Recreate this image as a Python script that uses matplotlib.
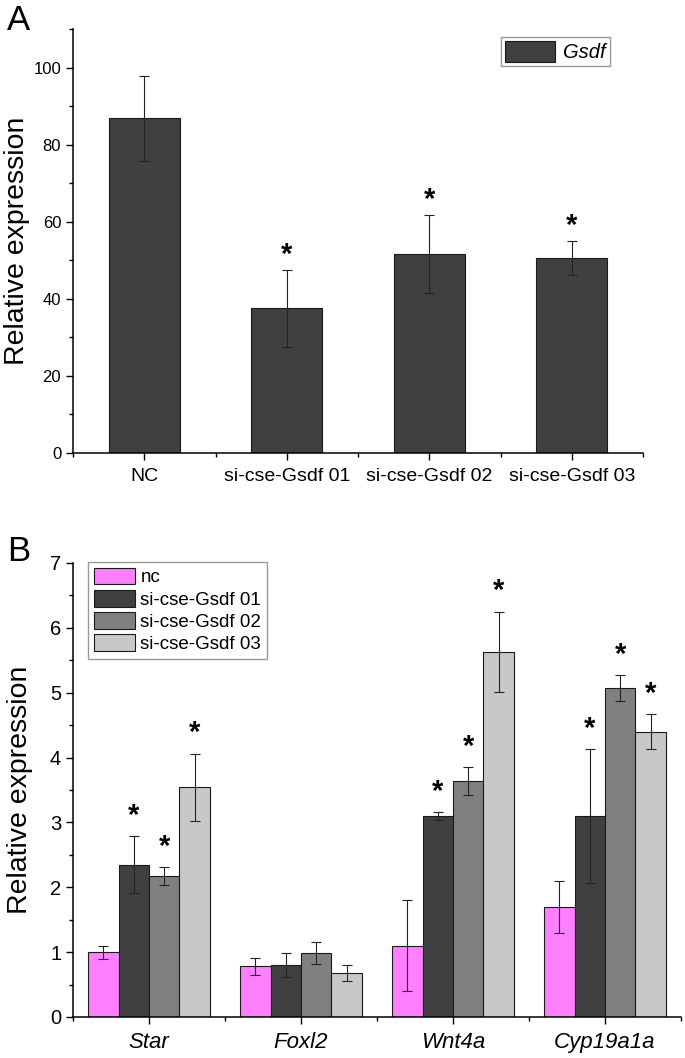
import numpy as np
import matplotlib
matplotlib.use("Agg")
import matplotlib.pyplot as plt
from matplotlib.ticker import MultipleLocator, FixedLocator

plt.rcParams["font.family"] = ["Liberation Sans", "DejaVu Sans"]

# Panel A data
groups_a = ["NC", "si-cse-Gsdf 01", "si-cse-Gsdf 02", "si-cse-Gsdf 03"]
gsdf_mean = [86.8, 37.5, 51.6, 50.7]
gsdf_err = [11.1, 9.9, 10.2, 4.4]
gsdf_star = [False, True, True, True]

# Panel B data
genes = ["Star", "Foxl2", "Wnt4a", "Cyp19a1a"]
series_b = ["nc", "si-cse-Gsdf 01", "si-cse-Gsdf 02", "si-cse-Gsdf 03"]
colors_b = ["#ff80ff", "#404040", "#808080", "#c8c8c8"]
means_b = [
    [1.00, 0.78, 1.10, 1.70],
    [2.35, 0.80, 3.10, 3.10],
    [2.17, 0.98, 3.64, 5.07],
    [3.54, 0.68, 5.63, 4.40],
]
errs_b = [
    [0.10, 0.13, 0.70, 0.40],
    [0.44, 0.18, 0.06, 1.03],
    [0.14, 0.17, 0.21, 0.20],
    [0.52, 0.12, 0.62, 0.27],
]
stars_b = [
    [False, False, False, False],
    [True, False, True, True],
    [True, False, True, True],
    [True, False, True, True],
]

fig = plt.figure(figsize=(6.85, 10.58), dpi=100)
W, H = 685, 1058


def px_axes(x0, y0, x1, y1):
    return fig.add_axes([x0 / W, 1 - y1 / H, (x1 - x0) / W, (y1 - y0) / H])


def style_axes(ax, tick_size):
    for s in ["top", "right"]:
        ax.spines[s].set_visible(False)
    for s in ["left", "bottom"]:
        ax.spines[s].set_linewidth(1.1)
    ax.tick_params(which="major", direction="out", length=5, width=1.0,
                   labelsize=tick_size)
    ax.tick_params(which="minor", direction="out", length=3, width=1.0)


# ---- Panel A ----
axA = px_axes(73, 29, 643, 453)
x = np.arange(len(groups_a))
axA.bar(x, gsdf_mean, width=0.5, color="#404040", edgecolor="#1a1a1a",
        linewidth=0.8, label="Gsdf", zorder=2)
axA.errorbar(x, gsdf_mean, yerr=gsdf_err, fmt="none", ecolor="#222222",
             elinewidth=0.8, capsize=3.5, capthick=0.8, zorder=3)
for i in range(len(x)):
    if gsdf_star[i]:
        axA.text(x[i], gsdf_mean[i] + gsdf_err[i] + 0.3, "*", ha="center",
                 va="bottom", fontsize=21, fontweight="bold")
axA.set_xlim(-0.5, 3.5)
axA.set_ylim(0, 110)
axA.set_xticks(x)
axA.set_xticklabels(groups_a)
axA.xaxis.set_minor_locator(FixedLocator([-0.5, 0.5, 1.5, 2.5, 3.5]))
axA.set_yticks([0, 20, 40, 60, 80, 100])
axA.yaxis.set_minor_locator(MultipleLocator(10))
style_axes(axA, 12)
axA.tick_params(axis="x", labelsize=14, pad=6)
axA.set_ylabel("Relative expression", fontsize=20.5)
axA.yaxis.set_label_coords(-0.075, 0.5)
legA = axA.legend(loc="upper left", bbox_to_anchor=(501 / W, 1 - 37 / H),
                  bbox_transform=fig.transFigure, prop={"style": "italic", "size": 14.5},
                  frameon=True, fancybox=False, handlelength=2.5, handleheight=1.2,
                  handletextpad=0.4, borderpad=0.2, borderaxespad=0)
legA.get_frame().set_edgecolor("#808080")
legA.get_frame().set_linewidth(1.0)
fig.text(7 / W, 1 - 30 / H, "A", fontsize=25, ha="left", va="baseline")

# ---- Panel B ----
axB = px_axes(73, 563, 681, 1017)
xb = np.arange(len(genes))
offsets = [-0.3, -0.1, 0.1, 0.3]
for k in range(len(series_b)):
    pos = xb + offsets[k]
    axB.bar(pos, means_b[k], width=0.2, color=colors_b[k], edgecolor="#1a1a1a",
            linewidth=0.8, label=series_b[k], zorder=2)
    axB.errorbar(pos, means_b[k], yerr=errs_b[k], fmt="none", ecolor="#222222",
                 elinewidth=0.8, capsize=3.5, capthick=0.8, zorder=3)
    for i in range(len(genes)):
        if stars_b[k][i]:
            axB.text(pos[i], means_b[k][i] + errs_b[k][i] + 0.1, "*",
                     ha="center", va="bottom", fontsize=21, fontweight="bold")
axB.set_xlim(-0.5, 3.5)
axB.set_ylim(0, 7)
axB.set_xticks(xb)
axB.set_xticklabels(genes, style="italic")
axB.xaxis.set_minor_locator(FixedLocator([-0.5, 0.5, 1.5, 2.5, 3.5]))
axB.set_yticks(range(0, 8))
axB.yaxis.set_minor_locator(MultipleLocator(0.5))
style_axes(axB, 14.5)
axB.tick_params(axis="x", labelsize=16, pad=6)
axB.set_ylabel("Relative expression", fontsize=20.5)
axB.yaxis.set_label_coords(-0.066, 0.5)
legB = axB.legend(loc="upper left", bbox_to_anchor=(88 / W, 1 - 562 / H),
                  bbox_transform=fig.transFigure, prop={"size": 13.5},
                  frameon=True, fancybox=False, handlelength=2.2, handleheight=1.0,
                  handletextpad=0.3, borderpad=0.3, labelspacing=0.18,
                  borderaxespad=0)
legB.get_frame().set_edgecolor("#808080")
legB.get_frame().set_linewidth(1.0)
fig.text(7 / W, 1 - 561 / H, "B", fontsize=25, ha="left", va="baseline")

fig.savefig("out.png", dpi=100, facecolor="white")
